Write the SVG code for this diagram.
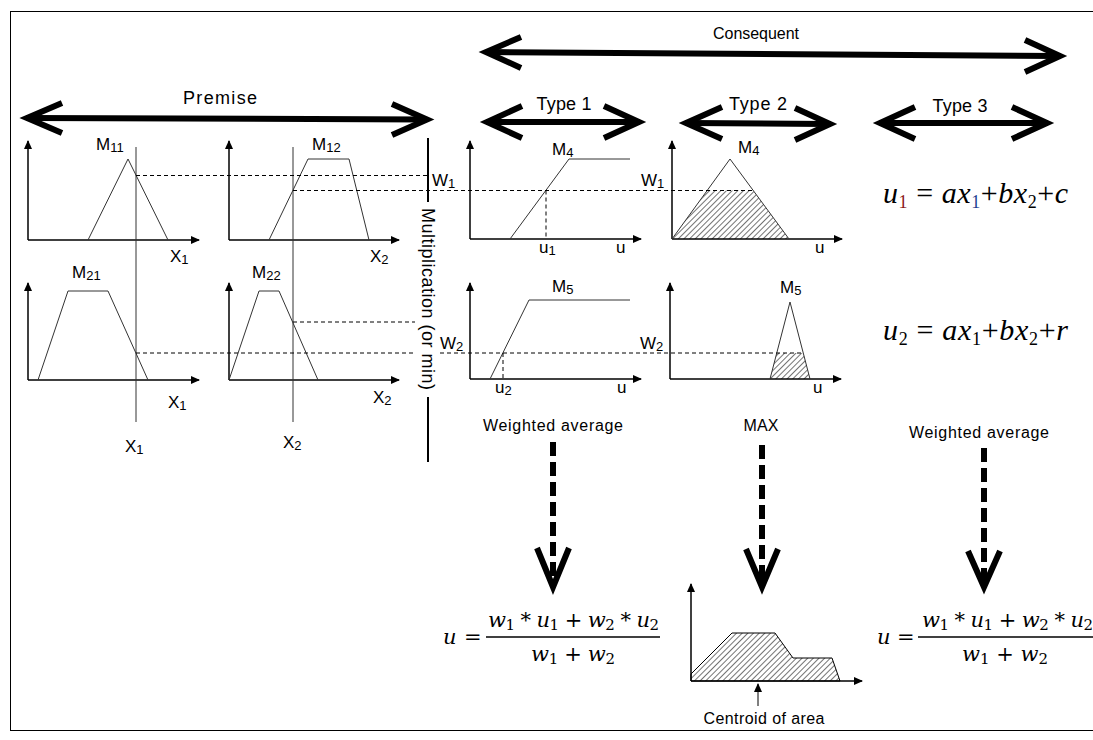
<svg xmlns="http://www.w3.org/2000/svg" width="1093" height="740" viewBox="0 0 1093 740">
<style>
.ax{stroke:#000;stroke-width:1.5;fill:none}
.mf{stroke:#333;stroke-width:1;fill:none}
.dash{stroke:#000;stroke-width:1;stroke-dasharray:4 3;fill:none}
.big{stroke:#000;stroke-width:6;fill:none;stroke-linejoin:miter}
.tdash{stroke:#000;stroke-width:6;stroke-dasharray:14 6;fill:none}
.lbl{font-family:"Liberation Sans",Arial,sans-serif;font-size:17px;fill:#000}
.sub{font-size:13px}
.cap{font-family:"Liberation Sans",Arial,sans-serif;font-size:16px;fill:#000}
.hdr{font-family:"Liberation Sans",Arial,sans-serif;font-size:18px;fill:#000}
.math{font-family:"DejaVu Serif","Liberation Serif",serif;font-size:21px;font-style:italic;fill:#000}
.mn{font-style:normal}
.ms{font-style:normal;font-size:15px}
.eq{font-family:"Liberation Serif","Times New Roman",serif;font-size:30px;fill:#000}
.it{font-style:italic}
</style>
<defs>
<marker id="ah" markerWidth="9" markerHeight="8" refX="8" refY="4" orient="auto" markerUnits="userSpaceOnUse">
<path d="M0,0 L9,4 L0,8 z" fill="#000"/>
</marker>
<pattern id="hatch" width="4" height="4" patternUnits="userSpaceOnUse" patternTransform="rotate(45)">
<line x1="0" y1="0" x2="0" y2="4" stroke="#000" stroke-width="1.1"/>
</pattern>
</defs>
<rect x="10.5" y="11.5" width="1090" height="719" fill="#fff" stroke="#000" stroke-width="1"/>

<g id="premise-header">
<text class="hdr" x="220" y="104" text-anchor="middle" font-size="20" textLength="74">Premise</text>
<line class="big" x1="30" y1="118" x2="424" y2="119.5"/>
<polyline class="big" points="62,103 27,118 62,133"/>
<polyline class="big" points="392,104 427,119.5 392,135"/>
</g>

<g id="consequent-header">
<text class="cap" x="756" y="39" text-anchor="middle" font-size="17" textLength="86">Consequent</text>
<line class="big" x1="489" y1="52" x2="1057" y2="56"/>
<polyline class="big" points="521,37 486,52 521,68"/>
<polyline class="big" points="1025,40 1060,56 1025,72"/>
</g>

<g id="type1-header">
<text class="hdr" x="564" y="110" text-anchor="middle" textLength="55">Type 1</text>
<line class="big" x1="490" y1="122" x2="636" y2="122"/>
<polyline class="big" points="522,106 487,122 522,138"/>
<polyline class="big" points="604,106 639,122 604,138"/>
</g>
<g id="type2-header">
<text class="hdr" x="758" y="110" text-anchor="middle" textLength="58">Type 2</text>
<line class="big" x1="689" y1="123" x2="827" y2="124"/>
<polyline class="big" points="722,107 686,123 722,139"/>
<polyline class="big" points="795,108 830,124 795,140"/>
</g>
<g id="type3-header">
<text class="hdr" x="960" y="112" text-anchor="middle" textLength="55">Type 3</text>
<line class="big" x1="883" y1="123" x2="1044" y2="123"/>
<polyline class="big" points="915,107 880,123 915,139"/>
<polyline class="big" points="1012,107 1047,123 1012,139"/>
</g>

<g id="chart-M11">
<line class="ax" x1="28" y1="240" x2="28" y2="141" marker-end="url(#ah)"/>
<line class="ax" x1="28" y1="240" x2="199" y2="240" marker-end="url(#ah)"/>
<polyline class="mf" points="88,240 128,159 168,240"/>
<text class="lbl" x="96" y="150">M<tspan class="sub" dy="2">11</tspan></text>
<text class="lbl" x="170" y="262">X<tspan class="sub" dy="2">1</tspan></text>
</g>
<g id="chart-M12">
<line class="ax" x1="229" y1="240" x2="229" y2="141" marker-end="url(#ah)"/>
<line class="ax" x1="229" y1="240" x2="399" y2="240" marker-end="url(#ah)"/>
<polyline class="mf" points="269,240 308,159 349,159 369,240"/>
<text class="lbl" x="312" y="150">M<tspan class="sub" dy="2">12</tspan></text>
<text class="lbl" x="370" y="262">X<tspan class="sub" dy="2">2</tspan></text>
</g>
<g id="chart-M21">
<line class="ax" x1="28" y1="380" x2="28" y2="283" marker-end="url(#ah)"/>
<line class="ax" x1="28" y1="380" x2="199" y2="380" marker-end="url(#ah)"/>
<polyline class="mf" points="38,380 68,291 108,291 148,380"/>
<text class="lbl" x="72" y="278">M<tspan class="sub" dy="2">21</tspan></text>
<text class="lbl" x="168" y="408">X<tspan class="sub" dy="2">1</tspan></text>
</g>
<g id="chart-M22">
<line class="ax" x1="229" y1="380" x2="229" y2="283" marker-end="url(#ah)"/>
<line class="ax" x1="229" y1="380" x2="399" y2="380" marker-end="url(#ah)"/>
<polyline class="mf" points="229,380 259,291 279,291 318,380"/>
<text class="lbl" x="252" y="278">M<tspan class="sub" dy="2">22</tspan></text>
<text class="lbl" x="373" y="403">X<tspan class="sub" dy="2">2</tspan></text>
</g>

<g id="inputs">
<line class="mf" x1="136" y1="147" x2="136" y2="422" stroke="#000"/>
<line class="mf" x1="293" y1="147" x2="293" y2="422" stroke="#000"/>
<text class="lbl" x="125" y="452">X<tspan class="sub" dy="2">1</tspan></text>
<text class="lbl" x="283" y="448">X<tspan class="sub" dy="2">2</tspan></text>
</g>

<g id="multiplication">
<line x1="428" y1="138" x2="428" y2="202" stroke="#000" stroke-width="2"/>
<line x1="428" y1="397" x2="428" y2="462" stroke="#000" stroke-width="2"/>
<text class="hdr" transform="translate(422,299) rotate(90)" text-anchor="middle" font-size="17" textLength="182">Multiplication (or min)</text>
</g>

<g id="chart-type1-M4">
<line class="ax" x1="470" y1="239" x2="470" y2="141" marker-end="url(#ah)"/>
<line class="ax" x1="470" y1="239" x2="641" y2="239" marker-end="url(#ah)"/>
<polyline class="mf" points="510,239 569,159 630,159"/>
<text class="lbl" x="552" y="155">M<tspan class="sub" dy="2">4</tspan></text>
<text class="lbl" x="432" y="186">W<tspan class="sub" dy="2">1</tspan></text>
<text class="lbl" x="539" y="253">u<tspan class="sub" dy="2">1</tspan></text>
<text class="lbl" x="616" y="253">u</text>
</g>
<g id="chart-type2-M4">
<line class="ax" x1="672" y1="239" x2="672" y2="141" marker-end="url(#ah)"/>
<line class="ax" x1="672" y1="239" x2="842" y2="239" marker-end="url(#ah)"/>
<polygon points="672,239 707.5,190.5 753,190.5 789,239" fill="url(#hatch)"/>
<polyline class="mf" points="672,239 730,159 789,239"/>
<text class="lbl" x="738" y="153">M<tspan class="sub" dy="2">4</tspan></text>
<text class="lbl" x="641" y="186">W<tspan class="sub" dy="2">1</tspan></text>
<text class="lbl" x="815" y="253">u</text>
</g>
<g id="chart-type1-M5">
<line class="ax" x1="470" y1="379" x2="470" y2="283" marker-end="url(#ah)"/>
<line class="ax" x1="470" y1="379" x2="641" y2="379" marker-end="url(#ah)"/>
<polyline class="mf" points="490,379 529,300 630,300"/>
<text class="lbl" x="552" y="292">M<tspan class="sub" dy="2">5</tspan></text>
<text class="lbl" x="440" y="349">W<tspan class="sub" dy="2">2</tspan></text>
<text class="lbl" x="495" y="393">u<tspan class="sub" dy="2">2</tspan></text>
<text class="lbl" x="617" y="393">u</text>
</g>
<g id="chart-type2-M5">
<line class="ax" x1="670" y1="379" x2="670" y2="283" marker-end="url(#ah)"/>
<line class="ax" x1="670" y1="379" x2="841" y2="379" marker-end="url(#ah)"/>
<polygon points="770,379 776.8,353 803.2,353 810,379" fill="url(#hatch)"/>
<polyline class="mf" points="770,379 790,302 810,379"/>
<text class="lbl" x="780" y="293">M<tspan class="sub" dy="2">5</tspan></text>
<text class="lbl" x="640" y="349">W<tspan class="sub" dy="2">2</tspan></text>
<text class="lbl" x="813" y="393">u</text>
</g>

<g id="type3-equations">
<text class="eq" x="883" y="203" textLength="185"><tspan class="it">u</tspan><tspan font-size="18" dy="5" fill="#8b1a1a">1</tspan><tspan dy="-5"> = </tspan><tspan class="it">ax</tspan><tspan font-size="18" dy="5" fill="#1f3f8f">1</tspan><tspan dy="-5">+</tspan><tspan class="it">bx</tspan><tspan font-size="18" dy="5">2</tspan><tspan dy="-5">+</tspan><tspan class="it">c</tspan></text>
<text class="eq" x="883" y="340" textLength="185"><tspan class="it">u</tspan><tspan font-size="18" dy="5">2</tspan><tspan dy="-5"> = </tspan><tspan class="it">ax</tspan><tspan font-size="18" dy="5">1</tspan><tspan dy="-5">+</tspan><tspan class="it">bx</tspan><tspan font-size="18" dy="5">2</tspan><tspan dy="-5">+</tspan><tspan class="it">r</tspan></text>
</g>

<g id="connectors">
<line class="dash" x1="136" y1="175.5" x2="428" y2="175.5"/>
<line class="dash" x1="293" y1="190.5" x2="753" y2="190.5"/>
<line class="dash" x1="293" y1="322" x2="415" y2="322"/>
<line class="dash" x1="136" y1="353" x2="415" y2="353"/>
<line class="dash" x1="440" y1="353" x2="803" y2="353"/>
<line class="dash" x1="546" y1="190.5" x2="546" y2="239"/>
<line class="dash" x1="503" y1="353" x2="503" y2="379"/>
<line class="tdash" x1="553" y1="442" x2="553" y2="580"/>
<polyline class="big" points="537,548 553,587 569,548"/>
<line class="tdash" x1="762" y1="445" x2="762" y2="580"/>
<polyline class="big" points="746,549 762,587 778,549"/>
<line class="tdash" x1="984" y1="448" x2="984" y2="580"/>
<polyline class="big" points="968,551 984,587 1000,551"/>
<line x1="758" y1="706" x2="758" y2="684" stroke="#000" stroke-width="1" marker-end="url(#ah)"/>
</g>

<g id="labels-defuzz">
<text class="cap" x="553" y="431" text-anchor="middle" textLength="140">Weighted average</text>
<text class="cap" x="761" y="431" text-anchor="middle" textLength="35">MAX</text>
<text class="cap" x="979" y="438" text-anchor="middle" textLength="140">Weighted average</text>
</g>

<g id="formula-left">
<text class="math" x="443" y="644">u</text>
<text class="math mn" x="464" y="644">=</text>
<line x1="486" y1="637" x2="660" y2="637" stroke="#000" stroke-width="1.3"/>
<text class="math" x="488" y="627" textLength="171">w<tspan class="ms" dy="3">1</tspan><tspan class="mn" dy="-3"> * </tspan>u<tspan class="ms" dy="3">1</tspan><tspan class="mn" dy="-3"> + </tspan>w<tspan class="ms" dy="3">2</tspan><tspan class="mn" dy="-3"> * </tspan>u<tspan class="ms" dy="3">2</tspan></text>
<text class="math" x="531" y="661" textLength="84">w<tspan class="ms" dy="3">1</tspan><tspan class="mn" dy="-3"> + </tspan>w<tspan class="ms" dy="3">2</tspan></text>
</g>

<g id="centroid-chart">
<line class="ax" x1="691" y1="681" x2="691" y2="584" stroke-width="1.2" marker-end="url(#ah)"/>
<polygon points="691,681 691,674 732,633 775,633 793,658 832,658 840,681" fill="url(#hatch)" stroke="#000" stroke-width="1"/>
<line class="ax" x1="691" y1="681" x2="862" y2="681" marker-end="url(#ah)"/>
<text class="cap" x="764" y="724" text-anchor="middle" textLength="121">Centroid of area</text>
</g>

<g id="formula-right">
<text class="math" x="877" y="644">u</text>
<text class="math mn" x="897" y="644">=</text>
<line x1="918" y1="637" x2="1093" y2="637" stroke="#000" stroke-width="1.3"/>
<text class="math" x="922" y="627" textLength="171">w<tspan class="ms" dy="3">1</tspan><tspan class="mn" dy="-3"> * </tspan>u<tspan class="ms" dy="3">1</tspan><tspan class="mn" dy="-3"> + </tspan>w<tspan class="ms" dy="3">2</tspan><tspan class="mn" dy="-3"> * </tspan>u<tspan class="ms" dy="3">2</tspan></text>
<text class="math" x="962" y="661" textLength="86">w<tspan class="ms" dy="3">1</tspan><tspan class="mn" dy="-3"> + </tspan>w<tspan class="ms" dy="3">2</tspan></text>
</g>
</svg>
